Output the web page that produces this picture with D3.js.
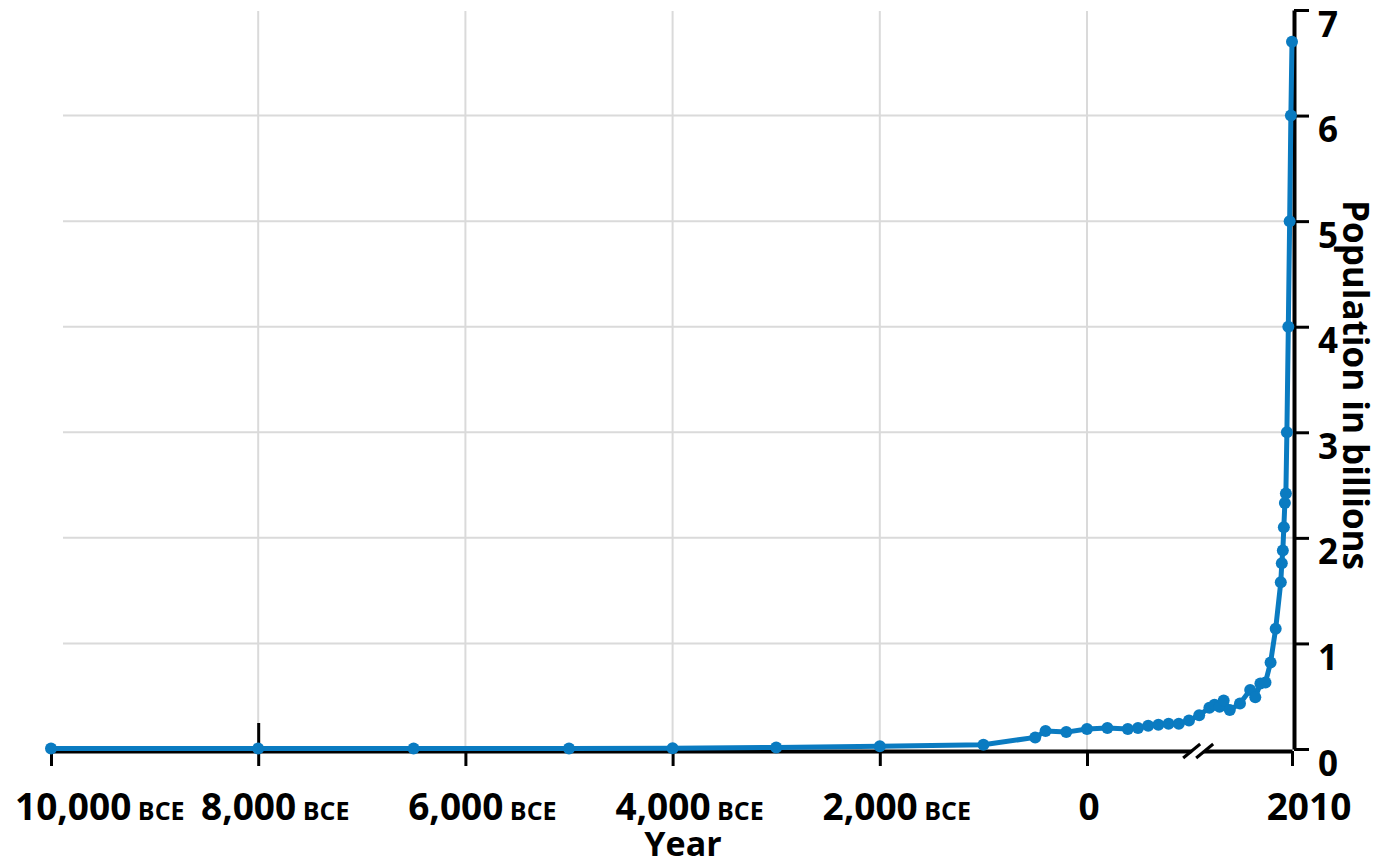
<!DOCTYPE html>
<html>
<head>
<meta charset="utf-8">
<script src="https://cdn.jsdelivr.net/npm/d3@7"></script>
<style>
  html, body { margin: 0; padding: 0; background: #fff; }
  svg { display: block; }
  text { font-family: "Open Sans", Lato, sans-serif; font-weight: 700; fill: #000; }
</style>
</head>
<body>
<svg id="chart" width="1387" height="867"></svg>
<script>
// ---- data ----
const years = [-10000, -8000, -6500, -5000, -4000, -3000, -2000, -1000, -500, -400, -200,
  0, 200, 400, 500, 600, 700, 800, 900, 1000, 1100, 1200, 1250, 1300, 1340, 1400, 1500,
  1600, 1650, 1700, 1750, 1800, 1850, 1900, 1910, 1920, 1930, 1940, 1950, 1960, 1974,
  1987, 1999, 2010];
const population = [0.004, 0.005, 0.005, 0.005, 0.007, 0.014, 0.027, 0.04, 0.11, 0.17, 0.16,
  0.19, 0.2, 0.19, 0.2, 0.22, 0.23, 0.24, 0.24, 0.27, 0.32, 0.39, 0.42, 0.40, 0.46, 0.37, 0.43,
  0.56, 0.49, 0.62, 0.63, 0.82, 1.14, 1.58, 1.76, 1.88, 2.1, 2.33, 2.42, 3.0, 4.0,
  5.0, 6.0, 6.7];
const xTickValues = [-10000, -8000, -6000, -4000, -2000, 0, 2010];
const xTickNumbers = ["10,000", "8,000", "6,000", "4,000", "2,000", "0", "2010"];
const xTickEras = ["BCE", "BCE", "BCE", "BCE", "BCE", "", ""];
const xGridValues = [-8000, -6000, -4000, -2000, 0];
const yTickValues = [0, 1, 2, 3, 4, 5, 6, 7];
const yGridValues = [1, 2, 3, 4, 5, 6];
const xTitle = "Year";
const yTitle = "Population in billions";
const breakYear = 1090;

// ---- layout ----
const svg = d3.select("#chart");
const blue = "#0a7bc1";
const grid = "#dadada";
const FONT = "'Open Sans', Lato, sans-serif";

const x = d3.scaleLinear().domain([-10000, 0, 2010]).range([51, 1087, 1292]);
const y = d3.scaleLinear().domain([0, 7]).range([749, 10]);
const axisY = 751;   // x-axis line
const axisX = 1294;  // y-axis line

// grid
svg.append("g").selectAll("line").data(xGridValues).join("line")
  .attr("x1", d => x(d)).attr("x2", d => x(d))
  .attr("y1", 11).attr("y2", axisY)
  .attr("stroke", grid).attr("stroke-width", 2);
svg.append("g").selectAll("line").data(yGridValues).join("line")
  .attr("x1", 63).attr("x2", axisX)
  .attr("y1", d => y(d)).attr("y2", d => y(d))
  .attr("stroke", grid).attr("stroke-width", 2);

// x axis
const gx = svg.append("g").attr("transform", `translate(0,${axisY})`)
  .call(d3.axisBottom(x).tickValues(xTickValues).tickSize(15).tickSizeOuter(0).tickFormat(""));
gx.select(".domain").attr("stroke", "#000").attr("stroke-width", 4);
gx.selectAll(".tick line").attr("stroke", "#000").attr("stroke-width", 3)
  .attr("y1", d => d === -8000 ? -28 : 0);

// x tick labels (number + small era), with simple collision layout
let prevRight = -Infinity;
xTickValues.forEach((v, i) => {
  const t = svg.append("text").attr("y", 820).attr("text-anchor", "start");
  t.append("tspan").text(xTickNumbers[i]).attr("font-size", 37);
  if (xTickEras[i]) t.append("tspan").text(" " + xTickEras[i]).attr("font-size", 25);
  const w = t.node().getComputedTextLength();
  const shift = xTickNumbers[i] === "0" ? 2 : 17;
  let left = x(v) + shift - w / 2;
  left = Math.max(left, 15);
  left = Math.max(left, prevRight + 2);
  t.attr("x", left);
  prevRight = left + w;
});

// break mark on x axis
const bx = x(breakYear);
svg.append("polygon")
  .attr("points", [[bx - 8, axisY + 4], [bx + 4, axisY + 4], [bx + 10, axisY - 4], [bx - 2, axisY - 4]].join(" "))
  .attr("fill", "#fff");
[[-15, 2], [-2, 15]].forEach(([a, b]) => {
  svg.append("line")
    .attr("x1", bx + a).attr("y1", axisY + 7)
    .attr("x2", bx + b).attr("y2", axisY - 7)
    .attr("stroke", "#000").attr("stroke-width", 3);
});

// y axis
const gy = svg.append("g").attr("transform", `translate(${axisX},0)`)
  .call(d3.axisRight(y).tickValues(yTickValues).tickSize(15).tickSizeOuter(0).tickFormat(d3.format("d")));
gy.select(".domain").attr("stroke", "#000").attr("stroke-width", 4);
gy.selectAll(".tick line").attr("stroke", "#000").attr("stroke-width", 3);
gy.selectAll(".tick text").attr("x", 24).attr("dy", null).attr("y", 26)
  .attr("font-size", 35).attr("text-anchor", "start")
  .style("font-family", FONT).style("font-weight", 700).attr("fill", "#000");

// line + dots
const pts = years.map((yr, i) => [yr, population[i]]);
svg.append("path").datum(pts)
  .attr("fill", "none").attr("stroke", blue).attr("stroke-width", 5)
  .attr("stroke-linejoin", "round")
  .attr("d", d3.line().x(d => x(d[0])).y(d => y(d[1])));
svg.append("g").selectAll("circle").data(pts).join("circle")
  .attr("cx", d => x(d[0])).attr("cy", d => y(d[1])).attr("r", 6).attr("fill", blue);

// titles
svg.append("text").attr("x", 683).attr("y", 856).attr("text-anchor", "middle")
  .attr("font-size", 34).text(xTitle);
svg.append("text").attr("transform", "translate(1343,385) rotate(90)")
  .attr("text-anchor", "middle").attr("font-size", 35).text(yTitle);
</script>
</body>
</html>
